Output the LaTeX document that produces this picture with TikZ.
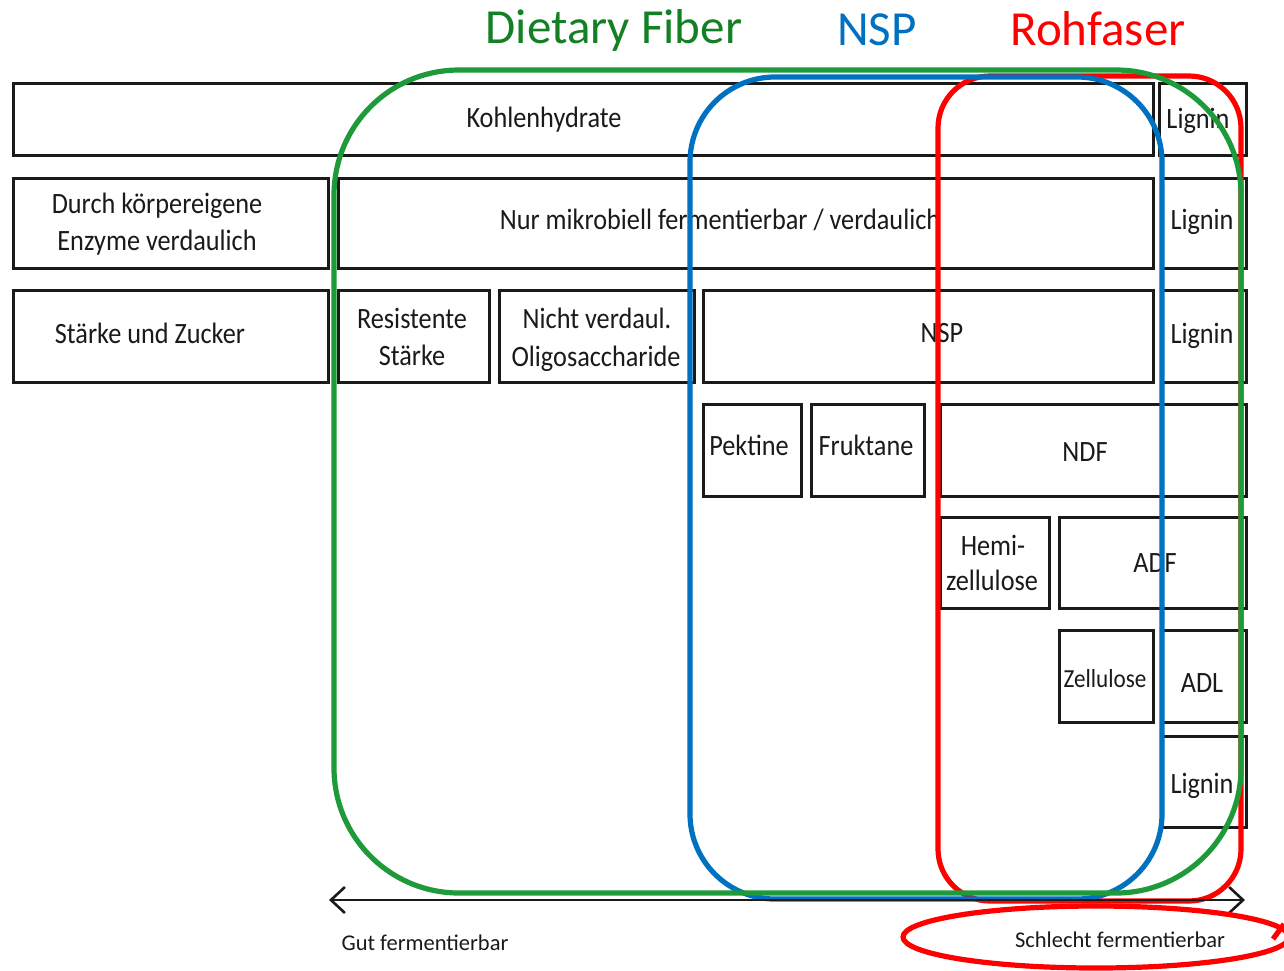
\documentclass[tikz,border=0pt]{standalone}
\usepackage{fontspec}
\setmainfont{Carlito}
\newfontfamily\boxfont{Carlito}[FakeStretch=0.89]
\usetikzlibrary{fit,arrows.meta}
\definecolor{dfgreen}{HTML}{1E9A3A}
\definecolor{dftext}{HTML}{138025}
\definecolor{nspblue}{HTML}{0070C0}
\definecolor{rfred}{HTML}{FF0000}
\definecolor{ink}{HTML}{1A1A1A}

\begin{document}
\begin{tikzpicture}[x=1pt,y=-1pt,
  box/.style={draw=ink, line width=3pt, inner sep=0pt, fit={#1}},
  lbl/.style={font=\boxfont\fontsize{29.5}{35}\selectfont, text=ink, inner sep=0pt, anchor=base},
  smalllbl/.style={font=\fontsize{22.5}{27}\selectfont, text=ink, inner sep=0pt, anchor=base},
  titlelbl/.style={font=\fontsize{49}{58}\selectfont, inner sep=0pt, anchor=base},
  group/.style={line width=5.2pt},
  barb/.style={line width=2.6pt, {Straight Barb[length=14pt,width=26pt]}-{Straight Barb[length=14pt,width=26pt]}}
]
\useasboundingbox (0,0) rectangle (1284,970);
\fill[white] (0,0) rectangle (1284,970);

% titles of the three fibre groups
\node[titlelbl, text=dftext] (tdf) at (614,43) {Dietary Fiber};
\node[titlelbl, text=nspblue] (tns) at (877,45) {NSP};
\node[titlelbl, text=rfred] (trf) at (1098,45) {Rohfaser};

% row 1
\node[box={(13,83) (1153,155)}] (kh) {};
\node[box={(1159,83) (1246,155)}] (lg1) {};
% row 2
\node[box={(13,178) (328,268)}] (dk) {};
\node[box={(338,178) (1153,268)}] (nm) {};
\node[box={(1162,178) (1246,268)}] (lg2) {};
% row 3
\node[box={(13,290) (328,382)}] (sz) {};
\node[box={(338,290) (489,382)}] (rs) {};
\node[box={(499,290) (694,382)}] (nv) {};
\node[box={(703,290) (1153,382)}] (nsp) {};
\node[box={(1162,290) (1246,382)}] (lg3) {};
% row 4
\node[box={(703,404) (801,496)}] (pk) {};
\node[box={(811,404) (924,496)}] (fk) {};
\node[box={(940,404) (1246,496)}] (ndf) {};
% row 5
\node[box={(940,517) (1049,608)}] (hz) {};
\node[box={(1059,517) (1246,608)}] (adf) {};
% row 6
\node[box={(1059,630) (1153,722)}] (zl) {};
\node[box={(1162,630) (1246,722)}] (adl) {};
% row 7
\node[box={(1162,736) (1246,827)}] (lg4) {};

% box texts
\node[lbl] (tkh) at (544,127) {Kohlenhydrate};
\node[lbl] (tl1) at (1198,128) {Lignin};
\node[lbl] (td1) at (157,213) {Durch körpereigene};
\node[lbl] (td2) at (157,250) {Enzyme verdaulich};
\node[lbl] (tnm) at (720,229) {Nur mikrobiell fermentierbar / verdaulich};
\node[lbl] (tl2) at (1202,229) {Lignin};
\node[lbl] (tsz) at (150,343) {Stärke und Zucker};
\node[lbl] (trs1) at (412,328) {Resistente};
\node[lbl] (trs2) at (412,365) {Stärke};
\node[lbl] (tnv1) at (597,328) {Nicht verdaul.};
\node[lbl] (tnv2) at (596,366) {Oligosaccharide};
\node[lbl] (tnsp) at (942,342) {NSP};
\node[lbl] (tl3) at (1202,343) {Lignin};
\node[lbl] (tpk) at (749,455) {Pektine};
\node[lbl] (tfk) at (866,455) {Fruktane};
\node[lbl] (tndf) at (1085,461) {NDF};
\node[lbl] (thz1) at (993,555) {Hemi-};
\node[lbl] (thz2) at (992,590) {zellulose};
\node[lbl] (tadf) at (1155,572) {ADF};
\node[lbl, font=\boxfont\fontsize{26}{30}\selectfont] (tzl) at (1105,687) {Zellulose};
\node[lbl] (tadl) at (1202,692) {ADL};
\node[lbl] (tl4) at (1202,793) {Lignin};

% group outlines
\draw[group, rfred, rounded corners=52pt] (938,76) rectangle (1241,901);
\draw[group, nspblue, rounded corners=85pt] (690,77) rectangle (1162,899);
\draw[group, dfgreen, rounded corners=125pt] (334,70) rectangle (1241,893);

% fermentability scale
\coordinate (gut) at (329,900);
\coordinate (schlecht) at (1245,900);
\draw[barb, draw=ink] (gut) -- (schlecht);
\node[smalllbl] (tgut) at (425,950) {Gut fermentierbar};
\node[smalllbl] (tschl) at (1120,947) {Schlecht fermentierbar};
\draw[group, rfred] (1096,937) ellipse [x radius=193, y radius=31];
\draw[group, rfred] (1273,939) -- (1284,924);
\end{tikzpicture}
\end{document}
